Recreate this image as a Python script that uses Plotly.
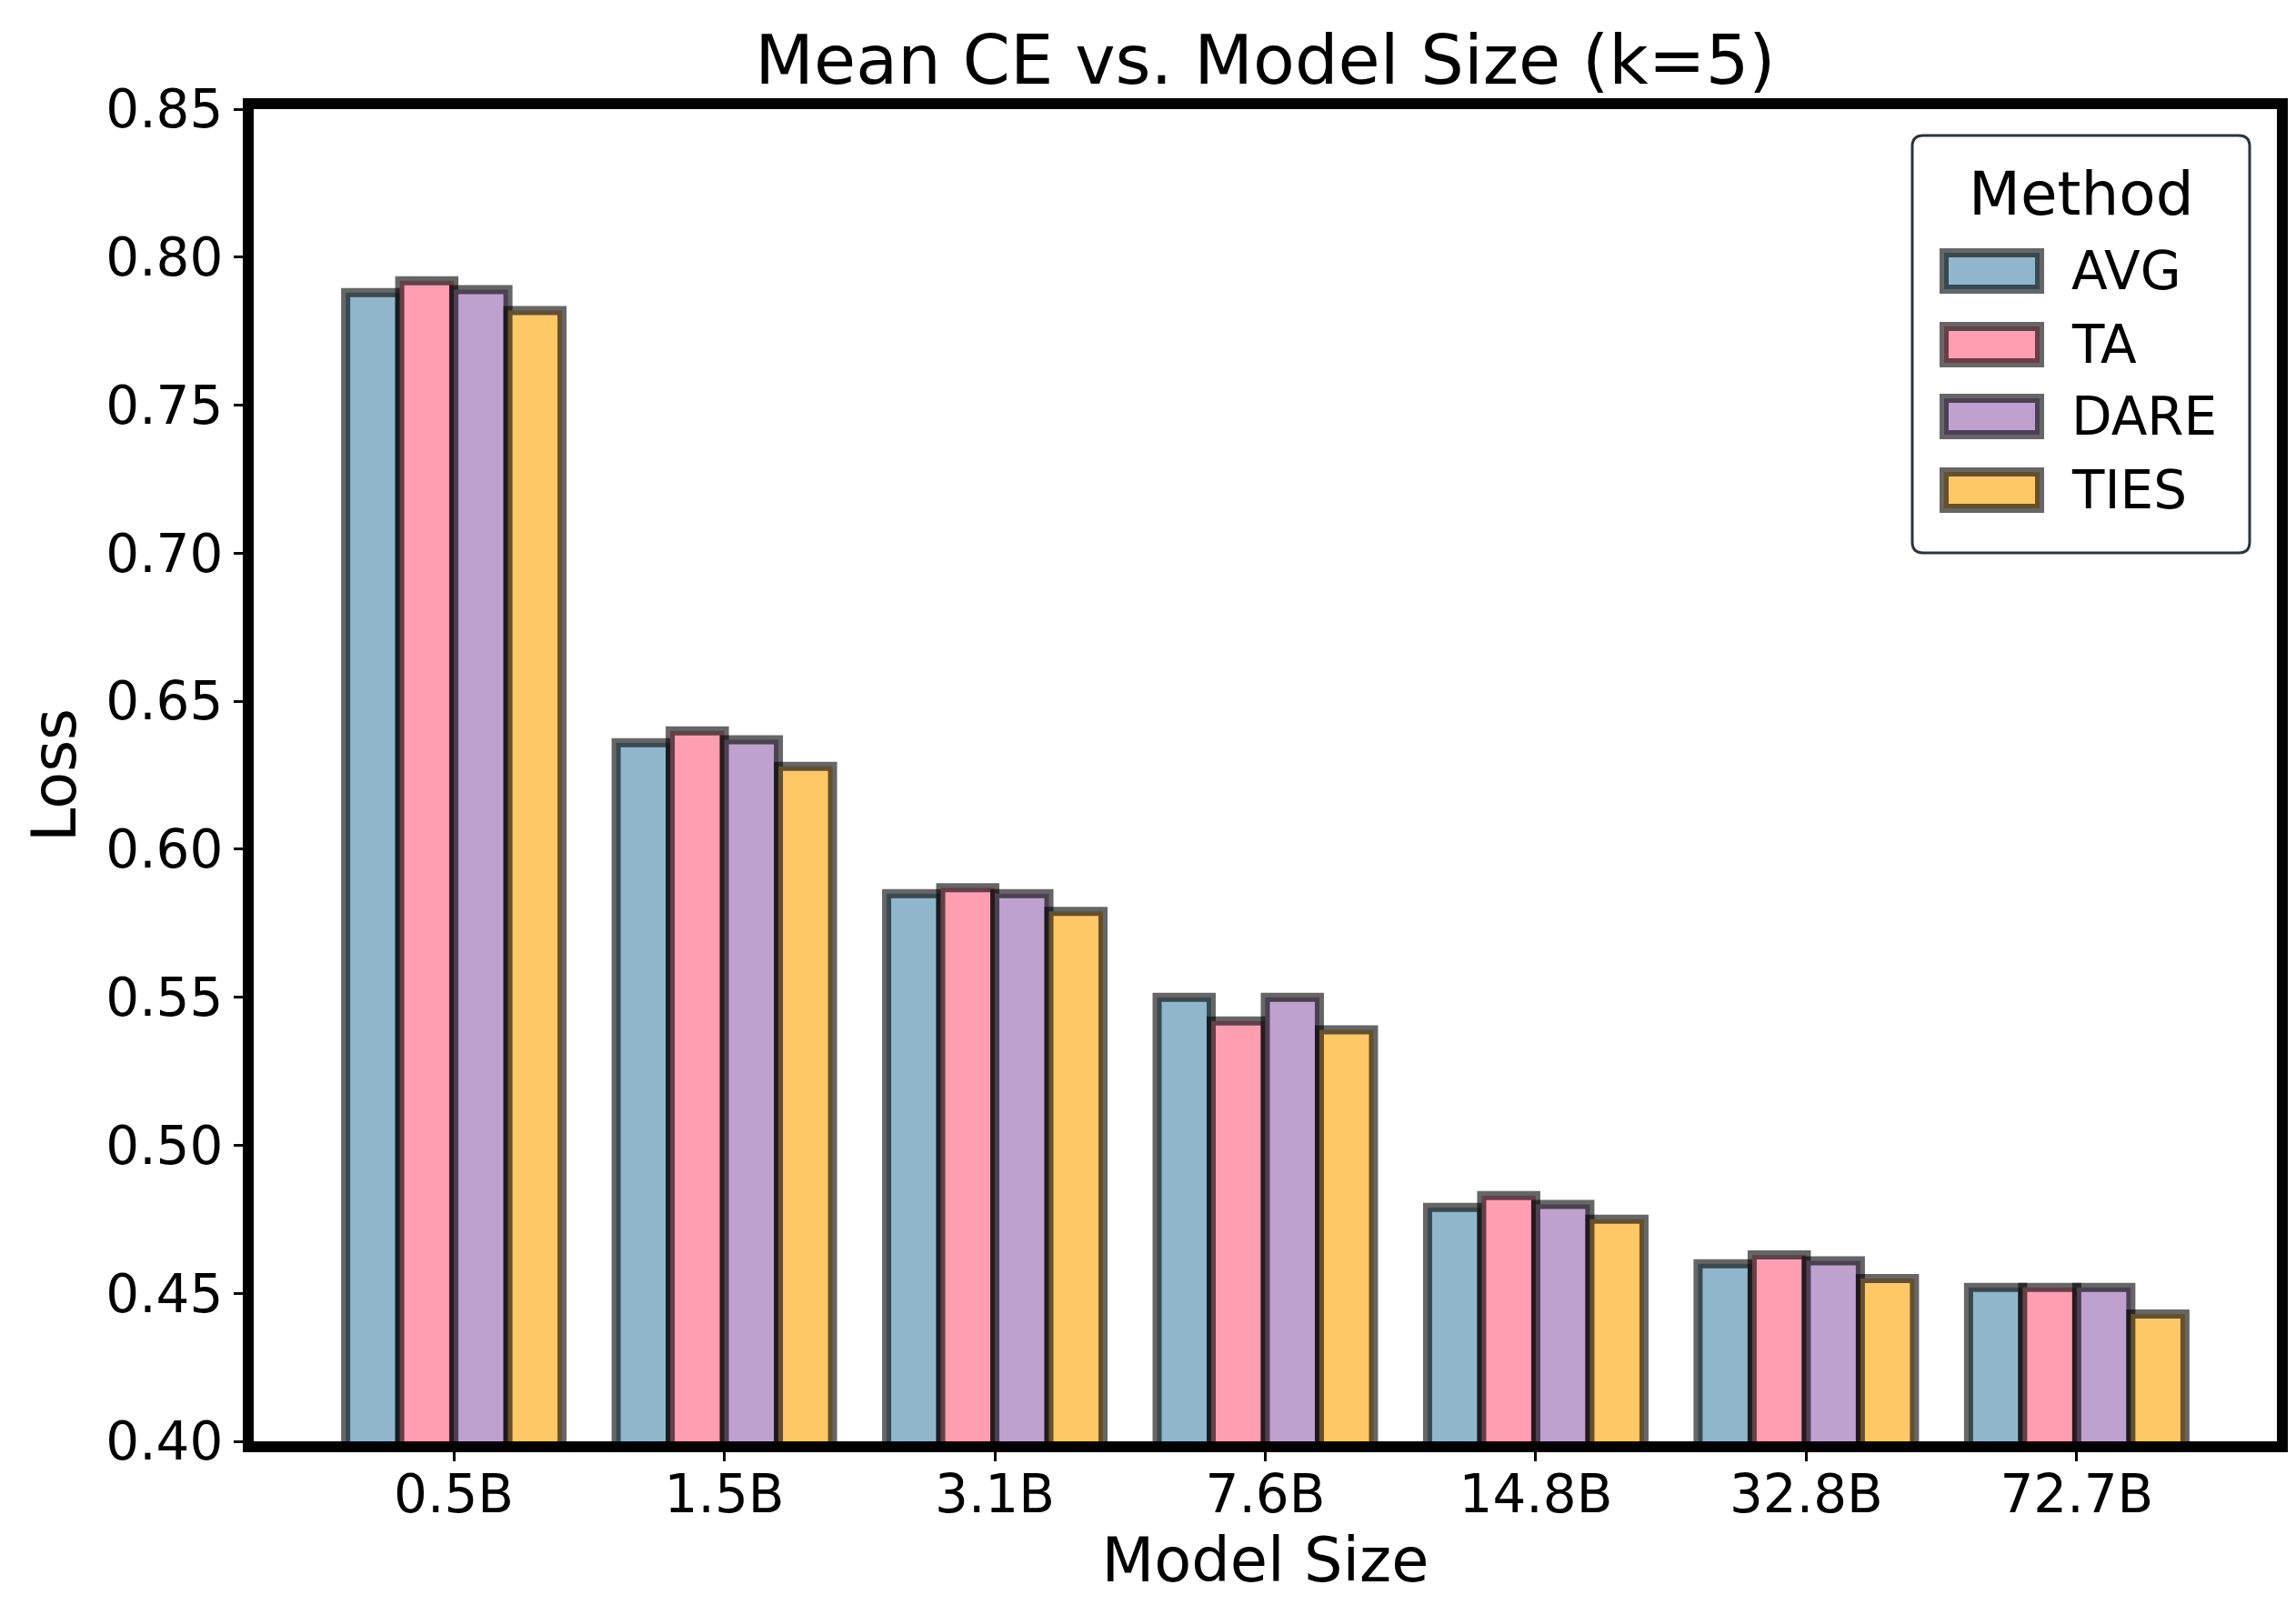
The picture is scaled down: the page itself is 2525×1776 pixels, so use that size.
import plotly.graph_objects as go

categories = ["0.5B", "1.5B", "3.1B", "7.6B", "14.8B", "32.8B", "72.7B"]
methods = ["AVG", "TA", "DARE", "TIES"]
avg_vals = [0.788, 0.636, 0.585, 0.550, 0.479, 0.460, 0.452]
ta_vals = [0.792, 0.640, 0.587, 0.542, 0.483, 0.463, 0.452]
dare_vals = [0.789, 0.637, 0.585, 0.550, 0.480, 0.461, 0.452]
ties_vals = [0.782, 0.628, 0.579, 0.539, 0.475, 0.455, 0.443]
series = [avg_vals, ta_vals, dare_vals, ties_vals]
colors = ["#8FB6CB", "#FF9EB1", "#BFA1CF", "#FFC866"]
y_ticks = [0.40, 0.45, 0.50, 0.55, 0.60, 0.65, 0.70, 0.75, 0.80, 0.85]

W, H = 2525, 1776
ML, MR, MT, MB = 271, 29, 112, 199
PW, PH = W - ML - MR, H - MT - MB
FONT = "DejaVu Sans"
EDGE = "rgba(0,0,0,0.6)"

fig = go.Figure()
for name, vals, col in zip(methods, series, colors):
    fig.add_trace(go.Bar(
        x=categories, y=vals, name=name, showlegend=False,
        marker=dict(color=col, line=dict(color=EDGE, width=10)),
    ))

def px_x(p):
    return (p - ML) / PW

def px_y(p):
    return (H - MB - p) / PH

shapes = []
# legend box (rounded)
bx0, bx1, by0, by1 = 2095, 2466, 141, 600
r = 12
rx, ry = r / PW, r / PH
X0, X1 = px_x(bx0), px_x(bx1)
Yt, Yb = px_y(by0), px_y(by1)
path = (f"M {X0+rx},{Yt} L {X1-rx},{Yt} Q {X1},{Yt} {X1},{Yt-ry} "
        f"L {X1},{Yb+ry} Q {X1},{Yb} {X1-rx},{Yb} L {X0+rx},{Yb} "
        f"Q {X0},{Yb} {X0},{Yb+ry} L {X0},{Yt-ry} Q {X0},{Yt} {X0+rx},{Yt} Z")
shapes.append(dict(type="path", xref="paper", yref="paper", path=path,
                   fillcolor="white", line=dict(color="#2B3440", width=3), layer="above"))

annotations = [dict(text="Method", xref="paper", yref="paper", x=px_x(2281), y=px_y(205),
                    showarrow=False, xanchor="center", yanchor="middle",
                    font=dict(family=FONT, size=66, color="black"))]
centers = [290, 371, 450, 531]
for name, col, cy in zip(methods, colors, centers):
    shapes.append(dict(type="rect", xref="paper", yref="paper",
                       x0=px_x(2130), x1=px_x(2235), y0=px_y(cy + 20), y1=px_y(cy - 20),
                       fillcolor=col, line=dict(color=EDGE, width=10), layer="above"))
    annotations.append(dict(text=name, xref="paper", yref="paper", x=px_x(2268), y=px_y(cy),
                            showarrow=False, xanchor="left", yanchor="middle",
                            font=dict(family=FONT, size=58, color="black")))

fig.update_layout(
    width=W, height=H,
    margin=dict(l=ML, r=MR, t=MT, b=MB),
    paper_bgcolor="white", plot_bgcolor="white",
    barmode="group", bargap=0.2, bargroupgap=0,
    font=dict(family=FONT, color="black"),
    title=dict(text="Mean CE vs. Model Size (k=5)", x=0.5, xref="paper",
               y=1 - 58 / H, yref="container", xanchor="center", yanchor="middle",
               font=dict(family=FONT, size=75, color="black")),
    shapes=shapes, annotations=annotations,
)
fig.update_xaxes(
    range=[-0.74, 6.74], showline=True, linecolor="black", linewidth=12, mirror=True,
    ticks="outside", ticklen=10, tickwidth=3, tickcolor="black",
    tickfont=dict(family=FONT, size=58, color="black"), ticklabelstandoff=-14,
    title=dict(text="Model Size", font=dict(family=FONT, size=67, color="black"), standoff=14),
    showgrid=False, zeroline=False,
)
fig.update_yaxes(
    range=[0.40, 0.85], tickvals=y_ticks, tickformat=".2f",
    showline=True, linecolor="black", linewidth=12, mirror=True,
    ticks="outside", ticklen=10, tickwidth=3, tickcolor="black",
    tickfont=dict(family=FONT, size=58, color="black"),
    title=dict(text="Loss", font=dict(family=FONT, size=67, color="black"), standoff=16),
    showgrid=False, zeroline=False,
)

fig.write_html("out.html")
